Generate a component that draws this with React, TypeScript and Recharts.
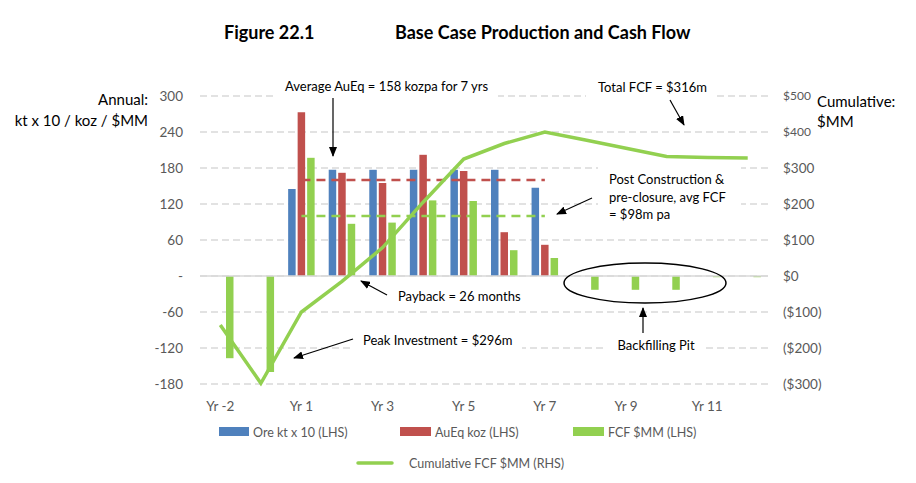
import React from 'react';
import {
  ComposedChart, Bar, Line, XAxis, YAxis, CartesianGrid, ReferenceLine
} from 'recharts';

// Values
const years = ['Yr -2', 'Yr -1', 'Yr 1', 'Yr 2', 'Yr 3', 'Yr 4', 'Yr 5', 'Yr 6', 'Yr 7', 'Yr 8', 'Yr 9', 'Yr 10', 'Yr 11', 'Yr 12'];
const oreKt = [null, null, 145, 177, 177, 177, 177, 177, 147, null, null, null, null, null];
const auEqKoz = [null, null, 273, 172, 155, 202, 175, 73, 52, null, null, null, null, null];
const fcfMM = [-137, -160, 197, 87, 89, 126, 125, 43, 30, -23, -23, -23, -2, -2];
const cumulativeFcf = [-136, -298, -100, -15, 79, 205, 325, 368, 400, 378, 355, 332, 329, 328];

const leftTicks = [-180, -120, -60, 0, 60, 120, 180, 240, 300];
const rightTicks = [-300, -200, -100, 0, 100, 200, 300, 400, 500];

const avgAuEq = 160;
const avgFcf = 100;

const BLUE = '#4f81bd';
const RED = '#c0504d';
const GREEN = '#92d050';
const GRID = '#d9d9d9';
const TICK = '#595959';
const FONT = 'Lato, "Open Sans", sans-serif';

const data = years.map((year, i) => ({
  year,
  ore: oreKt[i],
  aueq: auEqKoz[i],
  fcf: fcfMM[i],
  cum: cumulativeFcf[i],
}));

const fmtLeft = (v: number) => (v === 0 ? '-' : String(v));
const fmtRight = (v: number) => (v < 0 ? `($${Math.abs(v)})` : `$${v}`);

const RightTick = (props: any) => {
  const { x, y, payload } = props;
  const small = payload.value >= 400;
  return (
    <text x={x} y={y} dy="0.355em" textAnchor="start" fill={TICK} fontSize={small ? 12 : 13.5} fontFamily={FONT}>
      {fmtRight(payload.value)}
    </text>
  );
};

const Arrow = ({ x1, y1, x2, y2 }: { x1: number; y1: number; y2: number; x2: number }) => (
  <line x1={x1} y1={y1} x2={x2} y2={y2} stroke="#000" strokeWidth={1.2} markerEnd="url(#arrowHead)" />
);

const Overlay = () => (
  <svg width={916} height={483} style={{ position: 'absolute', left: 0, top: 0, pointerEvents: 'none' }} fontFamily={FONT}>
    <defs>
      <marker id="arrowHead" markerWidth="10" markerHeight="8" refX="9" refY="4" orient="auto" markerUnits="userSpaceOnUse">
        <path d="M0,0 L10,4 L0,8 Z" fill="#000" />
      </marker>
    </defs>

    {/* title */}
    <text x={224} y={32} dominantBaseline="central" fontSize={18} fontWeight="bold" fill="#000">Figure 22.1</text>
    <text x={395} y={32} dominantBaseline="central" fontSize={18} fontWeight="bold" fill="#000">Base Case Production and Cash Flow</text>

    {/* axis titles */}
    <text x={148} y={99} textAnchor="end" dominantBaseline="central" fontSize={15} fill="#000">Annual:</text>
    <text x={148} y={120} textAnchor="end" dominantBaseline="central" fontSize={15} fill="#000">kt x 10 / koz / $MM</text>
    <text x={817} y={101} dominantBaseline="central" fontSize={15} fill="#000">Cumulative:</text>
    <text x={817} y={121} dominantBaseline="central" fontSize={15} fill="#000">$MM</text>

    {/* text boxes */}
    <rect x={276} y={76} width={222} height={26} fill="#fff" />
    <text x={285} y={86} dominantBaseline="central" fontSize={13} fill="#000">Average AuEq = 158 kozpa for 7 yrs</text>
    <Arrow x1={333} y1={98} x2={333} y2={156} />

    <rect x={586} y={76} width={127} height={26} fill="#fff" />
    <text x={598} y={87} dominantBaseline="central" fontSize={13} fill="#000">Total FCF = $316m</text>
    <Arrow x1={670} y1={100} x2={684} y2={125} />

    <rect x={598} y={165} width={143} height={61} fill="#fff" />
    <text x={609} y={179} dominantBaseline="central" fontSize={13} fill="#000">Post Construction &amp;</text>
    <text x={609} y={197} dominantBaseline="central" fontSize={13} fill="#000">pre-closure, avg FCF</text>
    <text x={609} y={214} dominantBaseline="central" fontSize={13} fill="#000">= $98m pa</text>
    <Arrow x1={592} y1={198} x2={557} y2={214} />

    <text x={398} y={296} dominantBaseline="central" fontSize={13} fill="#000">Payback = 26 months</text>
    <Arrow x1={387} y1={295} x2={361} y2={281} />

    <rect x={352} y={328} width={170} height={24} fill="#fff" />
    <text x={363} y={340} dominantBaseline="central" fontSize={13} fill="#000">Peak Investment = $296m</text>
    <Arrow x1={353} y1={339} x2={294} y2={358} />

    <ellipse cx={645} cy={283} rx={81} ry={20} fill="none" stroke="#000" strokeWidth={1.5} />
    <rect x={607} y={334} width={99} height={24} fill="#fff" />
    <text x={656} y={345} textAnchor="middle" dominantBaseline="central" fontSize={13} fill="#000">Backfilling Pit</text>
    <Arrow x1={643} y1={333} x2={643} y2={308} />

    {/* legend */}
    <rect x={219} y={427} width={30} height={9} fill={BLUE} />
    <text x={253} y={432} dominantBaseline="central" fontSize={12.5} fill={TICK}>Ore kt x 10 (LHS)</text>
    <rect x={400} y={427} width={31} height={9} fill={RED} />
    <text x={435} y={432} dominantBaseline="central" fontSize={12.5} fill={TICK}>AuEq koz (LHS)</text>
    <rect x={573} y={427} width={31} height={9} fill={GREEN} />
    <text x={608} y={432} dominantBaseline="central" fontSize={12.5} fill={TICK}>FCF $MM (LHS)</text>
    <line x1={358} y1={463} x2={392} y2={463} stroke={GREEN} strokeWidth={3.5} strokeLinecap="round" />
    <text x={409} y={463} dominantBaseline="central" fontSize={12.5} fill={TICK}>Cumulative FCF $MM (RHS)</text>
  </svg>
);

export default function App() {
  return (
    <div style={{ position: 'absolute', left: 0, top: 0, width: 916, height: 483, background: '#fff', fontFamily: FONT }}>
      <ComposedChart
        width={916}
        height={483}
        data={data}
        margin={{ top: 96, right: 0, bottom: 69, left: 0 }}
        barSize={7.5}
        barGap={2}
      >
        <CartesianGrid yAxisId="left" vertical={false} stroke={GRID} strokeWidth={1.5} strokeDasharray="7 4" />
        <XAxis
          dataKey="year"
          interval={1}
          axisLine={false}
          tickLine={false}
          tickSize={0}
          tickMargin={17}
          height={30}
          tick={{ fill: TICK, fontSize: 13.5, fontFamily: FONT }}
        />
        <YAxis
          yAxisId="left"
          domain={[-180, 300]}
          ticks={leftTicks}
          tickFormatter={fmtLeft}
          axisLine={false}
          tickLine={false}
          tickSize={0}
          tickMargin={17}
          width={200}
          tick={{ fill: TICK, fontSize: 13.5, fontFamily: FONT }}
        />
        <YAxis
          yAxisId="right"
          orientation="right"
          domain={[-300, 500]}
          ticks={rightTicks}
          axisLine={false}
          tickLine={false}
          tickSize={0}
          tickMargin={15}
          width={148}
          tick={<RightTick />}
        />
        <ReferenceLine yAxisId="left" y={0} stroke={GRID} strokeWidth={1.5} />
        <Bar yAxisId="left" dataKey="ore" name="Ore kt x 10 (LHS)" fill={BLUE} isAnimationActive={false} />
        <Bar yAxisId="left" dataKey="aueq" name="AuEq koz (LHS)" fill={RED} isAnimationActive={false} />
        <Bar yAxisId="left" dataKey="fcf" name="FCF $MM (LHS)" fill={GREEN} isAnimationActive={false} />
        <ReferenceLine
          yAxisId="left"
          segment={[{ x: 'Yr 1', y: avgAuEq }, { x: 'Yr 7', y: avgAuEq }]}
          stroke={RED}
          strokeWidth={2.5}
          strokeDasharray="9 6"
        />
        <ReferenceLine
          yAxisId="left"
          segment={[{ x: 'Yr 1', y: avgFcf }, { x: 'Yr 7', y: avgFcf }]}
          stroke={GREEN}
          strokeWidth={2.5}
          strokeDasharray="9 6"
        />
        <Line
          yAxisId="right"
          dataKey="cum"
          name="Cumulative FCF $MM (RHS)"
          stroke={GREEN}
          strokeWidth={3.5}
          dot={false}
          isAnimationActive={false}
        />
      </ComposedChart>
      <Overlay />
    </div>
  );
}
